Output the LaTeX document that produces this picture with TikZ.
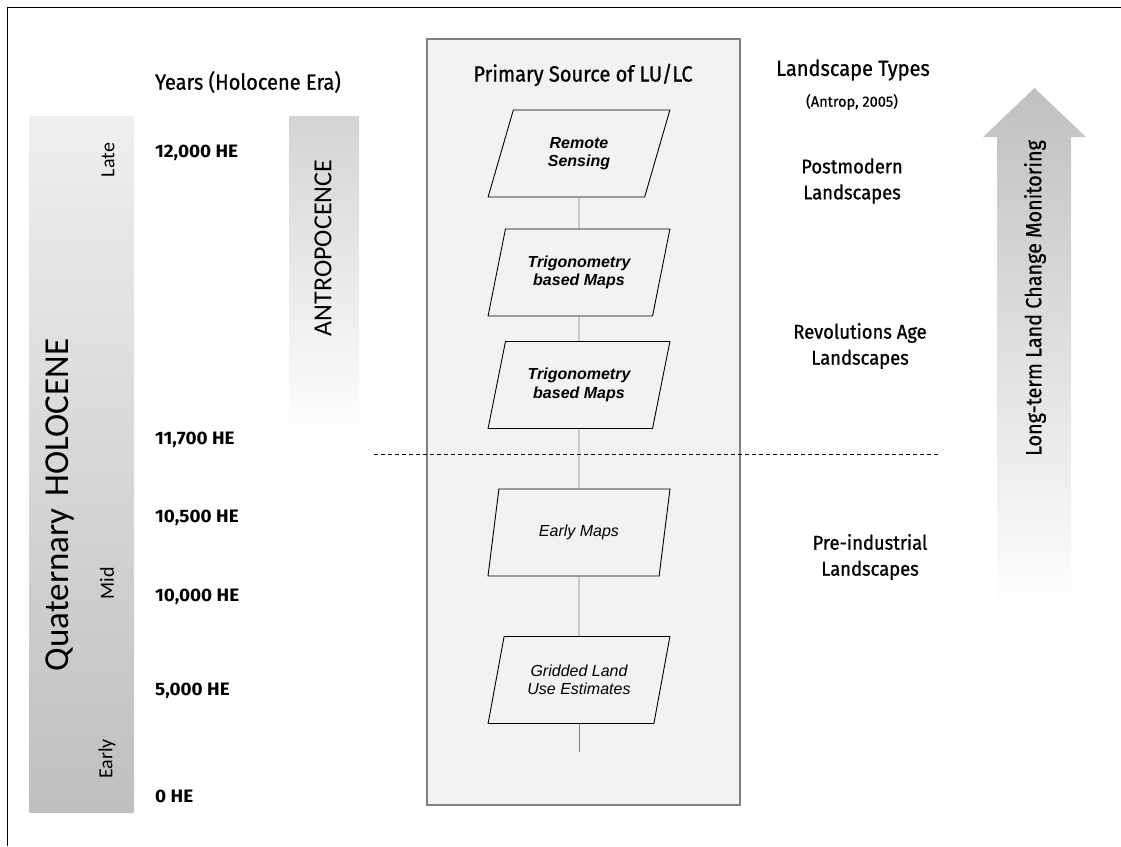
\documentclass[tikz,border=0pt]{standalone}
\usepackage{fontspec}
\usetikzlibrary{shapes.geometric}
\newfontfamily\headfont[FakeStretch=0.91, FakeBold=0.8]{Fira Sans}
\newfontfamily\yearfont[FakeStretch=1.05]{Fira Sans}
\newfontfamily\landfont[FakeStretch=0.92, FakeBold=0.8]{Fira Sans}
\newfontfamily\notefont[FakeStretch=0.97, FakeBold=0.5]{Fira Sans}
\newfontfamily\arrowfont[FakeStretch=0.9, FakeBold=0.6]{Fira Sans}
\newfontfamily\calibfont{Carlito}
\newfontfamily\arialfont{Liberation Sans}

\definecolor{boxfill}{HTML}{F2F2F2}
\definecolor{boxedge}{HTML}{808080}
\definecolor{linkgray}{HTML}{7F7F7F}
\definecolor{barlight}{HTML}{EFEFEF}
\definecolor{bardark}{HTML}{BFBFBF}
\definecolor{anthtop}{HTML}{D4D4D4}
\definecolor{anthmid}{HTML}{E2E2E2}
\definecolor{arrowtop}{HTML}{C0C0C0}

\tikzset{
  heading/.style={font=\headfont\fontsize{22}{24}\selectfont, inner sep=0pt},
  yearlabel/.style={font=\yearfont\bfseries\fontsize{18}{20}\selectfont, anchor=west, inner sep=0pt},
  landlabel/.style={font=\landfont\fontsize{20}{26}\selectfont, align=center, inner sep=0pt},
  periodlabel/.style={font=\calibfont\fontsize{20}{22}\selectfont, rotate=90, inner sep=0pt},
  sourcebox/.style={draw=black, line width=0.9pt, fill=boxfill, trapezium,
    trapezium left angle=70, trapezium right angle=110, trapezium stretches=true,
    minimum width=182pt, minimum height=87pt, inner sep=0pt, align=center,
    font=\arialfont\itshape\fontsize{16}{18.5}\selectfont},
  strongbox/.style={sourcebox, font=\arialfont\bfseries\itshape\fontsize{16}{18.5}\selectfont},
  link/.style={draw=linkgray, line width=0.8pt}
}

\begin{document}
\begin{tikzpicture}[x=1pt, y=-1pt]
\useasboundingbox (0,0) rectangle (1121,846);

% outer frame (top and left edges)
\draw[black, line width=1pt] (1121,7) -- (7,7) -- (7,846);

% Holocene bar
\shade[top color=barlight, bottom color=bardark] (29,116) rectangle (134,812);
\node[periodlabel] (late) at (108,160) {Late};
\node[periodlabel] (mid) at (107,583) {Mid};
\node[periodlabel] (early) at (107,759) {Early};
\node[font=\calibfont\fontsize{35}{38}\selectfont, rotate=90, inner sep=0pt] (holo) at (60,505) {Quaternary\hspace{12pt}HOLOCENE};

% Anthropocene bar
\shade[top color=anthtop, middle color=anthmid, bottom color=white] (289,116) rectangle (359,440);
\node[font=\calibfont\fontsize{26}{29}\selectfont, rotate=90, inner sep=0pt] (anth) at (323,248) {ANTROPOCENCE};

% year column
\node[heading] (yearshead) at (248,82) {Years (Holocene Era)};
\node[yearlabel] (y12000) at (155,153) {12,000 HE};
\node[yearlabel] (y11700) at (155,440) {11,700 HE};
\node[yearlabel] (y10500) at (155,518) {10,500 HE};
\node[yearlabel] (y10000) at (155,597) {10,000 HE};
\node[yearlabel] (y5000) at (155,691) {5,000 HE};
\node[yearlabel] (y0) at (155,796) {0 HE};

% primary sources panel
\draw[fill=boxfill, draw=boxedge, line width=2.4pt] (427,39) rectangle (740,805);
\node[heading] (srchead) at (583,75) {Primary Source of LU/LC};

\node[strongbox] (s1) at (579,153.5) {Remote\\Sensing};
\node[strongbox] (s2) at (579,272.5) {Trigonometry\\based Maps};
\node[strongbox] (s3) at (579,385) {Trigonometry\\based Maps};
\node[sourcebox] (s4) at (579,532.5) {Early Maps};
\node[sourcebox] (s5) at (579,680) {Gridded Land\\Use Estimates};
\coordinate (tail) at (579,752);

\draw[link] (s1) -- (s2);
\draw[link] (s2) -- (s3);
\draw[link] (s3) -- (s4);
\draw[link] (s4) -- (s5);
\draw[link] (s5) -- (tail);

% boundary between epochs
\coordinate (cutL) at (374,454);
\coordinate (cutR) at (940,454);
\draw[black, line width=0.8pt, dash pattern=on 4pt off 3pt] (cutL) -- (cutR);

% landscape types column
\node[heading] (landhead) at (853,70) {Landscape Types};
\node[font=\notefont\fontsize{15}{17}\selectfont, inner sep=0pt] (antrop) at (852,102) {(Antrop, 2005)};
\node[landlabel] (postmod) at (852,181) {Postmodern\\Landscapes};
\node[landlabel] (revol) at (860,346) {Revolutions Age\\Landscapes};
\node[landlabel] (preind) at (870,557) {Pre-industrial\\Landscapes};

% monitoring arrow
\shade[top color=arrowtop, bottom color=white]
  (997,612) -- (997,137) -- (983,137) -- (1034.5,88) -- (1086,137) -- (1071,137) -- (1071,612) -- cycle;
\node[font=\arrowfont\fontsize{22}{24}\selectfont, rotate=90, inner sep=0pt] (monitor) at (1035,298) {Long-term Land Change Monitoring};
\end{tikzpicture}
\end{document}
